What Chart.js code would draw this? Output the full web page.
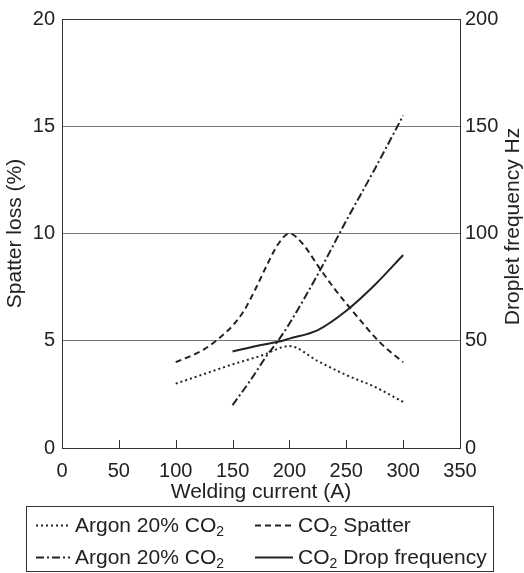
<!DOCTYPE html>
<html>
<head>
<meta charset="utf-8">
<script src="https://cdn.jsdelivr.net/npm/chart.js@4.4.1/dist/chart.umd.min.js"></script>
<style>
  html, body { margin: 0; padding: 0; background: #fff; }
  #wrap { position: relative; width: 524px; height: 573px; font-family: "Liberation Sans", Arial, sans-serif; color: #222; }
  #legend { position: absolute; left: 26px; top: 506px; width: 466px; height: 64px; border: 1.5px solid #333; }
  .item { position: absolute; font-size: 21px; line-height: 24px; white-space: nowrap; }
  .item svg { position: absolute; top: 11px; }
  .item span { position: absolute; top: 0; }
  sub { font-size: 14px; line-height: 0; vertical-align: -4px; }
</style>
</head>
<body>
<div id="wrap">
  <canvas id="chart" width="524" height="573"></canvas>
  <div id="legend"></div>
</div>
<script>
// Welding current (A) vs spatter loss / droplet frequency
const xTicks = [0, 50, 100, 150, 200, 250, 300, 350];
const spatterTicks = [0, 5, 10, 15, 20];
const freqTicks = [0, 50, 100, 150, 200];

const argonSpatterCurrent = [100, 125, 150, 175, 200, 225, 250, 275, 300];
const argonSpatter = [3.0, 3.45, 3.9, 4.3, 4.75, 4.05, 3.4, 2.85, 2.15];

const co2SpatterCurrent = [100, 125, 140, 150, 160, 170, 180, 190, 200, 212, 225, 240, 260, 280, 300];
const co2Spatter = [4.0, 4.6, 5.2, 5.7, 6.4, 7.4, 8.5, 9.5, 10.0, 9.5, 8.5, 7.4, 6.1, 4.9, 4.0];

const argonFreqCurrent = [150, 165, 180, 190, 200, 225, 250, 275, 300];
const argonFreq = [20, 31, 43, 50, 58, 81, 106, 130, 155];

const co2FreqCurrent = [150, 175, 190, 200, 225, 250, 275, 300];
const co2Freq = [45, 48, 49.5, 51, 55, 64, 76, 90];

const legendItems = [
  { text: 'Argon 20% CO<sub>2</sub>', dash: '2,3', col: 0, row: 0 },
  { text: 'CO<sub>2</sub> Spatter', dash: '6,4', col: 1, row: 0 },
  { text: 'Argon 20% CO<sub>2</sub>', dash: '8,3,2,3', col: 0, row: 1 },
  { text: 'CO<sub>2</sub> Drop frequency', dash: '', col: 1, row: 1 }
];

const ink = '#222';
const fontFamily = '"Liberation Sans", Arial, sans-serif';
const toPoints = (xs, ys) => xs.map((x, i) => ({ x: x, y: ys[i] }));

const lineStyle = {
  borderColor: ink,
  borderWidth: 2,
  pointRadius: 0,
  fill: false,
  cubicInterpolationMode: 'monotone'
};

// inward x ticks + right axis title reading upwards
const extras = {
  id: 'extras',
  afterDraw(chart) {
    const ctx = chart.ctx;
    const xs = chart.scales.x;
    const area = chart.chartArea;
    ctx.save();
    ctx.strokeStyle = '#333';
    ctx.lineWidth = 1;
    xTicks.forEach(v => {
      if (v === 0 || v === 350) return;
      const px = Math.round(xs.getPixelForValue(v)) + 0.5;
      ctx.beginPath();
      ctx.moveTo(px, area.bottom);
      ctx.lineTo(px, area.bottom - 8);
      ctx.stroke();
    });
    ctx.translate(513, (area.top + area.bottom) / 2 - 7);
    ctx.rotate(-Math.PI / 2);
    ctx.fillStyle = ink;
    ctx.font = '21px ' + fontFamily;
    ctx.textAlign = 'center';
    ctx.textBaseline = 'middle';
    ctx.fillText('Droplet frequency Hz', 0, 0);
    ctx.restore();
  }
};

const gridColor = c => (c.tick && (c.tick.value === 0 || c.tick.value === 20)) ? '#333' : '#777';

new Chart(document.getElementById('chart'), {
  type: 'line',
  data: {
    datasets: [
      Object.assign({ label: 'Argon 20% CO2 spatter', data: toPoints(argonSpatterCurrent, argonSpatter), yAxisID: 'y', borderDash: [2, 3] }, lineStyle),
      Object.assign({ label: 'CO2 Spatter', data: toPoints(co2SpatterCurrent, co2Spatter), yAxisID: 'y', borderDash: [6, 4] }, lineStyle),
      Object.assign({ label: 'Argon 20% CO2 frequency', data: toPoints(argonFreqCurrent, argonFreq), yAxisID: 'y1', borderDash: [8, 3, 2, 3] }, lineStyle),
      Object.assign({ label: 'CO2 Drop frequency', data: toPoints(co2FreqCurrent, co2Freq), yAxisID: 'y1' }, lineStyle)
    ]
  },
  options: {
    responsive: false,
    animation: false,
    layout: { padding: { top: 16, left: 0, right: 0, bottom: 68 } },
    plugins: { legend: { display: false }, tooltip: { enabled: false } },
    scales: {
      x: {
        type: 'linear',
        min: 0, max: 350,
        afterBuildTicks: s => { s.ticks = xTicks.map(v => ({ value: v })); },
        afterFit: s => { s.height = 57; },
        grid: { display: false, drawTicks: false },
        border: { color: '#333', width: 1 },
        ticks: { color: ink, padding: 11, maxRotation: 0, font: { family: fontFamily, size: 20 } },
        title: { display: true, text: 'Welding current (A)', color: ink, padding: { top: 0, bottom: 0 }, font: { family: fontFamily, size: 21 } }
      },
      y: {
        position: 'left',
        min: 0, max: 20,
        afterBuildTicks: s => { s.ticks = spatterTicks.map(v => ({ value: v })); },
        afterFit: s => { s.width = 62; },
        grid: { color: gridColor, lineWidth: 1, drawTicks: false },
        border: { color: '#333', width: 1 },
        ticks: { color: ink, padding: 7, font: { family: fontFamily, size: 20 } },
        title: { display: true, text: 'Spatter loss (%)', color: ink, padding: { top: 3, bottom: 0 }, font: { family: fontFamily, size: 21 } }
      },
      y1: {
        position: 'right',
        min: 0, max: 200,
        afterBuildTicks: s => { s.ticks = freqTicks.map(v => ({ value: v })); },
        afterFit: s => { s.width = 64; },
        grid: { drawOnChartArea: false, drawTicks: false },
        border: { color: '#333', width: 1 },
        ticks: { color: ink, padding: 5, font: { family: fontFamily, size: 20 } }
      }
    }
  },
  plugins: [extras]
});

// legend with subscripts
const legend = document.getElementById('legend');
const colX = [[9, 48], [228, 271]];
legendItems.forEach(it => {
  const d = document.createElement('div');
  d.className = 'item';
  d.style.left = colX[it.col][0] + 'px';
  d.style.top = (6 + it.row * 32) + 'px';
  const w = colX[it.col][1] - colX[it.col][0] - 5;
  d.innerHTML = '<svg width="' + w + '" height="3"><line x1="0" y1="1.5" x2="' + w + '" y2="1.5" stroke="' + ink +
    '" stroke-width="1.8"' + (it.dash ? ' stroke-dasharray="' + it.dash + '"' : '') + '/></svg>' +
    '<span style="left:' + (colX[it.col][1] - colX[it.col][0]) + 'px">' + it.text + '</span>';
  legend.appendChild(d);
});
</script>
</body>
</html>
